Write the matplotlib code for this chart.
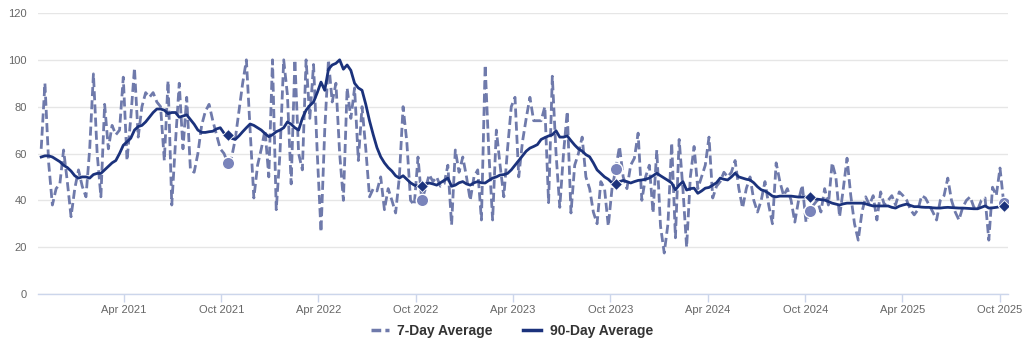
import matplotlib
matplotlib.use("Agg")
import matplotlib.pyplot as plt
from matplotlib.lines import Line2D
import pandas as pd

# Weekly observations, starting 2020-10-28
start_date = "2020-10-28"

avg_7day = [
    62, 90, 56, 38, 45, 47, 61.5, 48, 33, 45,
    53, 46, 41.5, 62, 94, 60, 41.5, 81, 62, 72,
    68, 70, 92.6, 57, 75, 96.5, 67, 80, 86, 84,
    86, 82, 80, 57, 91, 38, 65, 90, 62, 84,
    53, 52, 60, 72, 78, 81, 74, 68, 62, 60,
    56, 58, 66, 78, 90, 100, 70, 41, 55, 62,
    70, 50, 100, 36, 60, 100, 85, 47, 100, 60,
    53, 100, 75, 98, 60, 26.5, 70, 100, 82, 90,
    60, 40, 88, 75, 88, 57, 80, 62, 41.5, 45,
    44, 50, 36, 45, 40, 34.6, 50, 80, 65, 40,
    38, 58.5, 40, 45, 51, 48, 50, 46, 47, 55,
    29.5, 61.5, 52, 58.5, 50, 40, 50, 53, 31.6, 97.8,
    60, 31.6, 70, 55, 41.5, 62, 80, 84, 50, 65,
    75, 84, 74, 74, 74, 80, 39, 93, 60, 37,
    60, 78, 34.6, 55, 60, 67, 50, 45, 35, 30,
    48, 45, 29, 45, 53.5, 63, 50, 45, 55, 58,
    68.7, 40, 50, 55, 34.6, 61.5, 29, 17.5, 30, 64.5,
    24, 66, 45, 20, 50, 63, 45, 50, 55, 67,
    41, 46, 48, 52, 50, 52, 57, 45, 36.7, 45,
    50, 40, 35, 40, 48, 38, 30, 56, 48, 42,
    45, 40, 30.7, 40, 46.5, 30.7, 35.5, 38, 40, 35,
    45, 38, 56, 50, 33, 45, 58, 42, 30, 23,
    35, 41.5, 38, 42, 31.6, 43.6, 38, 40, 42, 38,
    43.6, 42, 40, 36, 33.8, 36, 42, 41, 38, 35,
    31.6, 40, 42, 49.5, 40, 35, 31.6, 37, 40, 41.5,
    37, 36, 40, 41, 23, 45.6, 42, 53.8, 38.8,
]

avg_90day = [
    58.5, 59, 59, 58.5, 57.5, 56.5, 55, 54, 52.5, 50.5,
    49.5, 50, 50, 49.5, 51, 51.5, 51.5, 53, 54.5, 56,
    57, 60, 63.5, 65, 66.5, 70, 71.5, 72, 73.5, 75.5,
    77.5, 79, 79, 78.5, 77, 77.5, 77.5, 75.5, 76, 76.5,
    74.5, 72.5, 70, 69, 69, 69.3, 69.5, 70.5, 71, 68.7,
    68, 66.5, 66, 67.5, 69.3, 71, 72.6, 72, 71, 70,
    68.5, 67.2, 68, 69.3, 70, 71, 73.5, 72.5, 71, 70,
    75, 78.5, 80.5, 82, 86, 90.5, 87, 96, 97.8, 98.5,
    100, 96, 97.8, 95.5, 90, 88, 87, 81, 74, 68,
    62.5, 58.6, 56, 54, 52.5, 50.5, 49.5, 50.5, 49, 47.5,
    46.5, 46, 46, 47, 47.4, 47, 46.5, 47.5, 48.5, 49.5,
    46, 46.5, 47.5, 48, 47, 46.5, 47.5, 48, 47.5, 47.4,
    48.5, 49.5, 50, 50.8, 51, 51.5, 53, 55, 57, 59,
    61, 62.3, 63, 63.8, 66, 66.8, 67.5, 68, 69.7, 67,
    67, 67.5, 65.5, 63.6, 62, 61, 59.5, 58.6, 56, 53,
    51.5, 50, 49, 47.5, 47, 48, 48.5, 48, 47.4, 48,
    48.5, 48.7, 49, 49.5, 50.5, 51.6, 50.5, 49.5, 48.5, 47.4,
    44.5, 46.5, 48, 44.4, 45, 45.2, 43, 44, 45.2, 45.5,
    46.5, 47.5, 49.5, 49, 48.7, 50, 51.6, 50, 49.5, 49,
    48.7, 47.5, 45.8, 44.5, 44, 43, 41.8, 41.5, 41.8, 41.8,
    41.8, 41.8, 41.6, 41.4, 41.4, 41.4, 41.4, 40.8, 40.5, 40.3,
    40.1, 39.5, 38.8, 38.4, 38, 38.5, 38.8, 38.8, 38.8, 38.8,
    38.8, 38.5, 38, 37.6, 37.6, 37.6, 37.6, 37.6, 37, 36.7,
    37.5, 38, 38.4, 37.8, 37.3, 37.3, 37.1, 37, 37, 36.8,
    36.7, 36.7, 36.9, 37, 36.9, 36.8, 36.7, 36.7, 36.6, 36.5,
    36.4, 36.4, 37, 37.6, 36.7, 36.8, 37, 37.3, 37.6,
]

# Yearly October reference dates highlighted with markers
october_marks = ["2021-10-13", "2022-10-12", "2023-10-11", "2024-10-09", "2025-10-08"]

x_ticks = ["2021-04-01", "2021-10-01", "2022-04-01", "2022-10-01", "2023-04-01",
           "2023-10-01", "2024-04-01", "2024-10-01", "2025-04-01", "2025-10-01"]
x_tick_labels = ["Apr 2021", "Oct 2021", "Apr 2022", "Oct 2022", "Apr 2023",
                 "Oct 2023", "Apr 2024", "Oct 2024", "Apr 2025", "Oct 2025"]
y_ticks = [0, 20, 40, 60, 80, 100, 120]

c_short = "#6f7aab"
c_long = "#1b327c"
c_dot = "#7a84bb"
c_text = "#666666"

dates = pd.date_range(start_date, periods=len(avg_7day), freq="7D")
s7 = pd.Series(avg_7day, index=dates)
s90 = pd.Series(avg_90day, index=dates)
mark_dates = pd.to_datetime(october_marks)

plt.rcParams["font.family"] = ["Liberation Sans", "DejaVu Sans"]
plt.rcParams["lines.scale_dashes"] = False

fig = plt.figure(figsize=(10.24, 3.5), dpi=100)
ax = fig.add_axes([38 / 1024, 56 / 350, 970 / 1024, 281 / 350])

ax.plot(s7.index, s7.values, color=c_short, lw=2.0, dashes=(6.5, 3),
        solid_capstyle="butt", dash_capstyle="butt", zorder=3)
ax.plot(s90.index, s90.values, color=c_long, lw=2.0, zorder=4)

ax.scatter(mark_dates, s7.loc[mark_dates].values, s=80, color=c_dot,
           edgecolor="white", linewidth=1.0, zorder=5)
ax.scatter(mark_dates, s90.loc[mark_dates].values, s=36, marker="D",
           color=c_long, edgecolor="white", linewidth=0.6, zorder=6)

ax.set_xlim(pd.Timestamp("2020-10-22"), pd.Timestamp("2025-10-16"))
ax.set_ylim(0, 120)

ax.set_yticks(y_ticks)
ax.set_yticklabels([str(v) for v in y_ticks])
ax.set_xticks(pd.to_datetime(x_ticks))
ax.set_xticklabels(x_tick_labels)

ax.grid(axis="y", color="#e6e6e6", lw=1.0)
ax.set_axisbelow(True)
for side in ["top", "right", "left"]:
    ax.spines[side].set_visible(False)
ax.spines["bottom"].set_color("#ccd6eb")
ax.spines["bottom"].set_linewidth(1.0)

ax.tick_params(axis="y", length=0, pad=8, labelsize=8, labelcolor=c_text)
ax.tick_params(axis="x", length=6, width=1, color="#ccd6eb", pad=2,
               labelsize=8, labelcolor=c_text)

handles = [
    Line2D([0], [0], color=c_short, lw=2.5, dashes=(7, 3)),
    Line2D([0], [0], color=c_long, lw=2.5),
]
leg = fig.legend(handles, ["7-Day Average", "90-Day Average"], loc="center",
                 bbox_to_anchor=(0.5, 19 / 350), ncol=2, frameon=False,
                 handlelength=1.3, handletextpad=0.6, columnspacing=2.2,
                 prop={"weight": "bold", "size": 10})
for t in leg.get_texts():
    t.set_color("#333333")

fig.savefig("out.png", dpi=100, facecolor="white")
